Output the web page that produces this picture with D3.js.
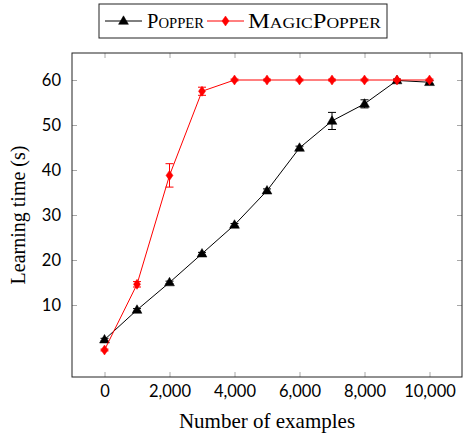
<!DOCTYPE html>
<html>
<head>
<meta charset="utf-8">
<script src="https://cdn.jsdelivr.net/npm/d3@7"></script>
<style>
  html, body { margin: 0; padding: 0; background: #fff; }
  svg { display: block; }
</style>
</head>
<body>
<svg id="chart" width="464" height="435"></svg>
<script>
const examples = [0, 1000, 2000, 3000, 4000, 5000, 6000, 7000, 8000, 9000, 10000];
const popperTime = [2.3, 8.9, 15.0, 21.4, 27.8, 35.4, 44.9, 50.9, 54.7, 59.9, 59.5];
const popperErr  = [0.3, 0.3, 0.3, 0.3, 0.3, 0.4, 0.4, 1.9, 0.9, 0.3, 0.4];
const magicTime  = [0.0, 14.6, 38.8, 57.5, 60, 60, 60, 60, 60, 60, 60];
const magicErr   = [0.2, 0.6, 2.6, 0.9, 0.2, 0.2, 0.2, 0.2, 0.2, 0.2, 0.2];
const xTicks = [0, 2000, 4000, 6000, 8000, 10000];
const yTicks = [10, 20, 30, 40, 50, 60];
const seriesNames = ["Popper", "MagicPopper"];
const seriesColors = ["#000000", "#ff0000"];

(function () {
const svg = d3.select("#chart");
const m = { left: 72, right: 462, top: 53, bottom: 377 };

const x = d3.scaleLinear().domain([-1000, 11000]).range([m.left, m.right]);
const y = d3.scaleLinear().domain([-6, 66]).range([m.bottom, m.top]);

const tickLen = 5;
const tickColor = "#a8a8a8";
const sansFont = "Lato, 'Open Sans', sans-serif";
const serifFont = "'Liberation Serif', 'DejaVu Serif', serif";

const fmt = d3.format(",");
const gBottom = svg.append("g").attr("transform", `translate(0,${m.bottom})`)
  .call(d3.axisBottom(x).tickValues(xTicks).tickFormat(fmt).tickSizeInner(-tickLen).tickSizeOuter(0).tickPadding(8));
const gTop = svg.append("g").attr("transform", `translate(0,${m.top})`)
  .call(d3.axisTop(x).tickValues(xTicks).tickFormat("").tickSizeInner(-tickLen).tickSizeOuter(0));
const gLeft = svg.append("g").attr("transform", `translate(${m.left},0)`)
  .call(d3.axisLeft(y).tickValues(yTicks).tickSizeInner(-tickLen).tickSizeOuter(0).tickPadding(11));
const gRight = svg.append("g").attr("transform", `translate(${m.right},0)`)
  .call(d3.axisRight(y).tickValues(yTicks).tickFormat("").tickSizeInner(-tickLen).tickSizeOuter(0));

[gBottom, gTop, gLeft, gRight].forEach(g => {
  g.select(".domain").remove();
  g.selectAll(".tick line").attr("stroke", tickColor).attr("stroke-width", 1);
  g.selectAll(".tick text").attr("font-family", sansFont).attr("font-size", 16.5).attr("fill", "#000");
});
svg.append("rect")
  .attr("x", m.left).attr("y", m.top)
  .attr("width", m.right - m.left).attr("height", m.bottom - m.top)
  .attr("fill", "none").attr("stroke", "#222").attr("stroke-width", 1);

svg.append("text")
  .attr("x", (m.left + m.right) / 2).attr("y", 428)
  .attr("text-anchor", "middle")
  .attr("font-family", serifFont).attr("font-size", 21)
  .text("Number of examples");
svg.append("text")
  .attr("transform", `translate(25,${(m.top + m.bottom) / 2}) rotate(-90)`)
  .attr("text-anchor", "middle")
  .attr("font-family", serifFont).attr("font-size", 20)
  .text("Learning time (s)");

const series = [
  { name: seriesNames[0], vals: popperTime, errs: popperErr, color: seriesColors[0], marker: "triangle" },
  { name: seriesNames[1], vals: magicTime, errs: magicErr, color: seriesColors[1], marker: "diamond" }
];

const triPath = d3.symbol().type(d3.symbolTriangle).size(42)();
function diamondPath(w, h) {
  return `M0,${-h}L${w},0L0,${h}L${-w},0Z`;
}

const line = d3.line().x(d => x(d[0])).y(d => y(d[1]));
const capW = 4;

series.forEach(s => {
  const pts = examples.map((e, i) => [e, s.vals[i], s.errs[i]]);
  const g = svg.append("g");
  g.append("path").attr("d", line(pts)).attr("fill", "none").attr("stroke", s.color).attr("stroke-width", 1);
  pts.forEach(p => {
    const cx = x(p[0]);
    const y1 = y(p[1] - p[2]), y2 = y(p[1] + p[2]);
    g.append("line").attr("x1", cx).attr("x2", cx).attr("y1", y1).attr("y2", y2).attr("stroke", s.color).attr("stroke-width", 1);
    g.append("line").attr("x1", cx - capW).attr("x2", cx + capW).attr("y1", y1).attr("y2", y1).attr("stroke", s.color).attr("stroke-width", 1);
    g.append("line").attr("x1", cx - capW).attr("x2", cx + capW).attr("y1", y2).attr("y2", y2).attr("stroke", s.color).attr("stroke-width", 1);
  });
  g.selectAll("path.mk").data(pts).enter().append("path")
    .attr("class", "mk")
    .attr("transform", d => `translate(${x(d[0])},${y(d[1]) + (s.marker === "triangle" ? 0.5 : 0)})`)
    .attr("d", s.marker === "triangle" ? triPath : diamondPath(3.5, 5))
    .attr("fill", s.color).attr("stroke", s.color).attr("stroke-width", 0.5);
});

const lg = svg.append("g");
const lgBox = { x: 99, y: 4, w: 288, h: 34 };
lg.append("rect").attr("x", lgBox.x).attr("y", lgBox.y).attr("width", lgBox.w).attr("height", lgBox.h)
  .attr("fill", "#fff").attr("stroke", "#222").attr("stroke-width", 1);
const items = [
  { name: seriesNames[0], color: seriesColors[0], marker: "triangle", lx: 105, tx: 147, tw: 57 },
  { name: seriesNames[1], color: seriesColors[1], marker: "diamond", lx: 207, tx: 248, tw: 133 }
];
const ly = 21;
items.forEach(it => {
  lg.append("line").attr("x1", it.lx).attr("x2", it.lx + 37).attr("y1", ly).attr("y2", ly)
    .attr("stroke", it.color).attr("stroke-width", 1);
  lg.append("path").attr("transform", `translate(${it.lx + 18.5},${ly + (it.marker === "triangle" ? 0.5 : 0)})`)
    .attr("d", it.marker === "triangle" ? triPath : diamondPath(3.5, 5))
    .attr("fill", it.color).attr("stroke", it.color).attr("stroke-width", 0.5);
  lg.append("text").attr("x", it.tx).attr("y", ly + 7)
    .attr("font-family", serifFont).attr("font-size", 21)
    .attr("textLength", it.tw).attr("lengthAdjust", "spacingAndGlyphs")
    .style("font-variant", "small-caps")
    .text(it.name);
});
})();
</script>
</body>
</html>
